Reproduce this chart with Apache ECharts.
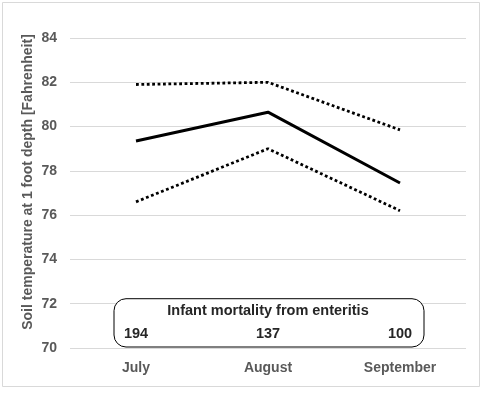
<!DOCTYPE html>
<html><head><meta charset="utf-8">
<script src="https://cdn.jsdelivr.net/npm/echarts@6/dist/echarts.min.js"></script>
<style>html,body{margin:0;padding:0;background:#fff}#c{width:486px;height:394px}</style>
</head><body><div id="c"></div>
<script>
const categories = ['July', 'August', 'September'];
const meanTemp = [79.35, 80.65, 77.45];
const upperTemp = [81.9, 82.0, 79.85];
const lowerTemp = [76.6, 79.0, 76.2];
const mortality = [194, 137, 100];
const mortalityTitle = 'Infant mortality from enteritis';
const yTicks = [70, 72, 74, 76, 78, 80, 82, 84];

const chart = echarts.init(document.getElementById('c'));
const FONT = '"Liberation Sans", Arial, sans-serif';
const dotted = { color: '#000', width: 2.8, type: [2.8, 2.6], cap: 'butt' };
const option = {
  animation: false,
  backgroundColor: '#fff',
  grid: { left: 70, right: 20, top: 38, bottom: 46 },
  xAxis: {
    type: 'category', data: categories, boundaryGap: true,
    axisLine: { show: false }, axisTick: { show: false },
    axisLabel: { color: '#595959', fontWeight: 'bold', fontSize: 14, fontFamily: FONT, margin: 13 }
  },
  yAxis: {
    type: 'value', min: yTicks[0], max: yTicks[yTicks.length - 1], interval: 2,
    name: 'Soil temperature at 1 foot depth [Fahrenheit]',
    nameLocation: 'middle', nameGap: 35, nameRotate: 90, nameMoveOverlap: false,
    nameTextStyle: { color: '#595959', fontWeight: 'bold', fontSize: 14, fontFamily: FONT, padding: [0, 0, 0, 22] },
    axisLine: { show: false }, axisTick: { show: false },
    axisLabel: { color: '#595959', fontWeight: 'bold', fontSize: 14, fontFamily: FONT, margin: 13 },
    splitLine: { lineStyle: { color: '#d9d9d9', width: 1 } }
  },
  series: [
    { type: 'line', data: meanTemp, symbol: 'none', lineStyle: { color: '#000', width: 3 }, z: 3 },
    { type: 'line', data: upperTemp, symbol: 'none', lineStyle: dotted, z: 3 },
    { type: 'line', data: lowerTemp, symbol: 'none', lineStyle: dotted, z: 3 }
  ]
};
chart.setOption(option);

function addAnnotation() {
  const p0 = chart.convertToPixel({ xAxisIndex: 0, yAxisIndex: 0 }, [0, 72]);
  const p1 = chart.convertToPixel({ xAxisIndex: 0, yAxisIndex: 0 }, [1, 72]);
  const p2 = chart.convertToPixel({ xAxisIndex: 0, yAxisIndex: 0 }, [2, 70]);
  const left = p0[0] - 22, right = p2[0] + 24;
  const top = p0[1] - 5, bottom = p2[1] - 1;
  const els = [
    { type: 'rect', shape: { x: left, y: top, width: right - left, height: bottom - top, r: 12 },
      style: { fill: '#fff', stroke: '#000', lineWidth: 1 }, z: 10 },
    { type: 'text', x: p1[0], y: top + 12, style: { text: mortalityTitle, fill: '#262626', font: 'bold 14.5px ' + FONT, align: 'center', verticalAlign: 'middle' }, z: 11 }
  ];
  mortality.forEach((v, i) => {
    const p = chart.convertToPixel({ xAxisIndex: 0, yAxisIndex: 0 }, [i, 70]);
    els.push({ type: 'text', x: p[0], y: top + 35, style: { text: String(v), fill: '#262626', font: 'bold 14.5px ' + FONT, align: 'center', verticalAlign: 'middle' }, z: 11 });
  });
  els.push({ type: 'rect', shape: { x: 2.5, y: 2.5, width: 477, height: 384 }, style: { fill: 'none', stroke: '#d9d9d9', lineWidth: 1 }, z: 0, silent: true });
  chart.setOption({ graphic: els });
}
addAnnotation();
</script></body></html>
